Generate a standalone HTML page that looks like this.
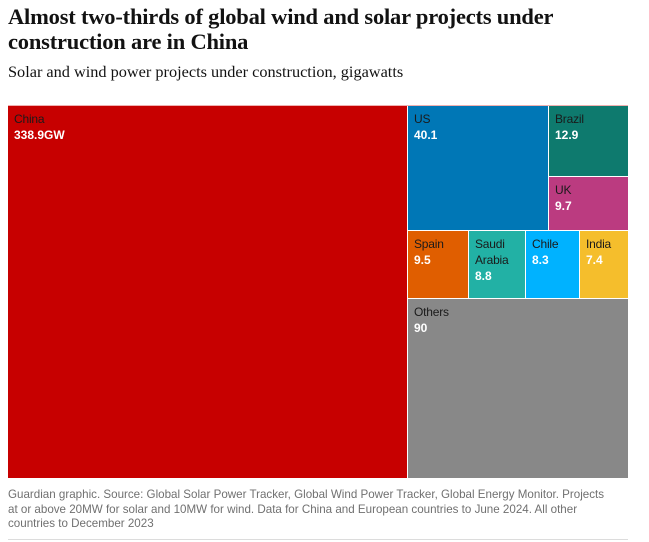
<!DOCTYPE html>
<html><head><meta charset="utf-8">
<style>
body{margin:0;background:#fff;width:649px;height:542px;overflow:hidden;font-family:"Liberation Serif",serif;}
h1{position:absolute;left:8px;top:4px;margin:0;font-size:22.5px;line-height:25px;font-weight:bold;color:#121212;letter-spacing:-0.2px;width:600px}
.sub{position:absolute;left:8px;top:62px;font-size:16.3px;color:#121212}
#tm{position:absolute;left:0;top:0}
.foot{position:absolute;left:8px;top:488px;width:606px;font-family:"Liberation Sans",sans-serif;font-size:11.6px;line-height:14.5px;color:#707070}
.rule{position:absolute;left:8px;top:539px;width:620px;height:1px;background:#dcdcdc}
.tile{position:absolute;box-sizing:border-box;font-family:"Liberation Sans",sans-serif;font-size:12px;line-height:16px;padding:5px 0 0 6px}
.tile .n{color:#1a1a1a;display:block;letter-spacing:-0.2px}
.tile .v{color:#fff;font-weight:bold;display:block}
</style></head><body>
<h1>Almost two-thirds of global wind and solar projects under construction are in China</h1>
<div class="sub">Solar and wind power projects under construction, gigawatts</div>
<div id="tm"></div>
<div class="foot">Guardian graphic. Source: Global Solar Power Tracker, Global Wind Power Tracker, Global Energy Monitor. Projects at or above 20MW for solar and 10MW for wind. Data for China and European countries to June 2024. All other countries to December 2023</div>
<div class="rule"></div>
<script>
const names=["China","US","Brazil","UK","Spain","Saudi Arabia","Chile","India","Others"];
const values=[338.9,40.1,12.9,9.7,9.5,8.8,8.3,7.4,90];
const colors=["#c70000","#0077b6","#0e7a6e","#bb3b80","#e05e00","#22b1a5","#00b2ff","#f5be2c","#888888"];
const X0=8,Y0=106,W=620,H=372,G=1;
const tm=document.getElementById('tm');
const sum=a=>a.reduce((s,i)=>s+values[i],0);
const rects=[];
function place(i,x,y,w,h){rects.push({i,x,y,w,h});}
const total=sum([0,1,2,3,4,5,6,7,8]);
const cw=W*values[0]/total;
place(0,X0,Y0,cw,H);
const rx=X0+cw,rw=W-cw,rest=total-values[0];
const bands=[[1,2,3],[4,5,6,7],[8]];
let yy=Y0;
bands.forEach((b,bi)=>{
  const bh=H*sum(b)/rest;
  if(bi===0){
    const uw=rw*values[1]/sum(b);
    place(1,rx,yy,uw,bh);
    const h2=bh*values[2]/(values[2]+values[3]);
    place(2,rx+uw,yy,rw-uw,h2);
    place(3,rx+uw,yy+h2,rw-uw,bh-h2);
  } else {
    let x=rx;
    b.forEach(i=>{const w=rw*values[i]/sum(b);place(i,x,yy,w,bh);x+=w;});
  }
  yy+=bh;
});
const topBorder=document.createElement('div');
topBorder.style.cssText=`position:absolute;left:${X0}px;top:${Y0-1}px;width:${W}px;height:1px;background:#f0b0b0`;


tm.appendChild(topBorder);
rects.forEach(r=>{
  const d=document.createElement('div');
  d.className='tile';
  d.style.left=Math.round(r.x)+'px';d.style.top=Math.round(r.y)+'px';
  d.style.width=(Math.round(r.x+r.w)-Math.round(r.x)-(r.x+r.w<X0+W-1?G:0))+'px';
  d.style.height=(Math.round(r.y+r.h)-Math.round(r.y)-(r.y+r.h<Y0+H-1?G:0))+'px';
  d.style.background=colors[r.i];
  const nm=names[r.i]==="Saudi Arabia"?"Saudi<br>Arabia":names[r.i];
  const v=r.i===0?values[r.i]+"GW":String(values[r.i]);
  d.innerHTML=`<span class="n">${nm}</span><span class="v">${v}</span>`;
  
  
  tm.appendChild(d);
});
</script>
</body></html>
